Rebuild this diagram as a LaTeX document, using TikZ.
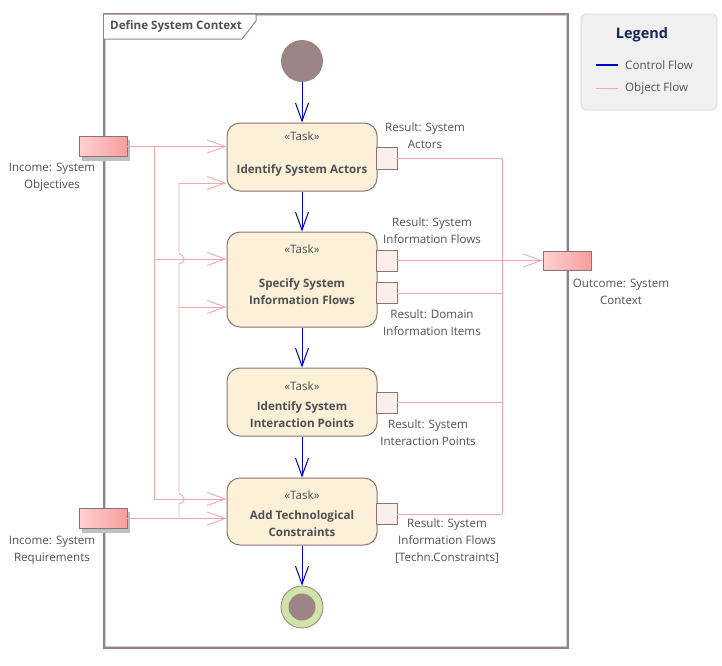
\documentclass[tikz,border=0pt]{standalone}
\usepackage{fontspec}
\setmainfont{Open Sans}
\usetikzlibrary{arrows.meta,calc}
\definecolor{objc}{RGB}{244,170,170}
\definecolor{ctrlc}{RGB}{0,0,205}
\definecolor{taskfill}{RGB}{253,240,217}
\definecolor{taskdraw}{RGB}{140,115,115}
\definecolor{pinfill}{RGB}{249,238,233}
\definecolor{inpinL}{RGB}{255,208,208}
\definecolor{inpinR}{RGB}{247,158,158}
\definecolor{initfill}{RGB}{158,133,133}
\definecolor{finring}{RGB}{208,228,168}
\definecolor{framec}{RGB}{150,130,130}
\definecolor{txtc}{RGB}{80,80,80}
\definecolor{legfill}{RGB}{240,240,240}
\definecolor{legdraw}{RGB}{215,215,215}
\definecolor{legtitle}{RGB}{20,40,90}
\begin{document}
\begin{tikzpicture}[x=1pt,y=-1pt,
  taskbox/.style={draw=taskdraw, fill=taskfill, line width=1pt, rounded corners=13pt, minimum width=150pt, inner sep=0},
  outpin/.style={draw=taskdraw, fill=pinfill, line width=0.9pt, minimum width=21pt, minimum height=21pt, inner sep=0},
  inpin/.style={draw=taskdraw, left color=inpinL, right color=inpinR, line width=0.9pt, minimum width=48pt, minimum height=20pt, inner sep=0},
  lbl/.style={text=txtc, font=\fontsize{11.6}{17}\selectfont, align=center, inner sep=0},
  tlbl/.style={text=txtc, font=\fontsize{11.6}{17}\selectfont, align=center, inner sep=0},
  tname/.style={text=txtc, font=\bfseries\fontsize{11.6}{17}\selectfont, align=center, inner sep=0},
  obj/.style={draw=objc, line width=0.9pt},
  objarr/.style={obj, -{Straight Barb[length=18pt,width=13pt]}},
  ctrl/.style={draw=ctrlc, line width=1pt, -{Straight Barb[length=18pt,width=13pt]}},
]
\useasboundingbox (0,0) rectangle (722,665);
% frame
\draw[black!18, line width=1.2pt] (105.5,15.5) rectangle (566.5,646.5);
\draw[framec, line width=1.4pt] (104,14) rectangle (568,648);
\draw[framec, line width=1pt, fill=white] (104,14) -- (256,14) -- (256,21) -- (242,39) -- (104,39);
\node[text=txtc, font=\bfseries\fontsize{11.6}{13}\selectfont, anchor=west, inner sep=0] (title) at (110,26.5) {Define System Context};
% legend
\node[draw=legdraw, fill=legfill, rounded corners=5pt, line width=0.8pt, minimum width=136pt, minimum height=96pt, inner sep=0] (legend) at (649,62) {};
\node[text=legtitle, font=\bfseries\fontsize{14.5}{16}\selectfont, inner sep=0] (legt) at (642,35) {Legend};
\coordinate (lc1) at (596,65); \coordinate (lc2) at (618,65);
\coordinate (lo1) at (596,88); \coordinate (lo2) at (618,88);
\draw[color=ctrlc, line width=1.1pt] (lc1) -- (lc2);
\draw[obj] (lo1) -- (lo2);
\node[lbl, anchor=west] (legc) at (625,65) {Control Flow};
\node[lbl, anchor=west] (lego) at (625,88) {Object Flow};
% initial / final
\node[circle, fill=initfill, minimum size=42pt, inner sep=0] (init) at (302,61) {};
\node[circle, draw=framec, fill=finring, line width=0.8pt, minimum size=42pt, inner sep=0] (final) at (302,607) {};
\node[circle, fill=initfill, minimum size=27pt, inner sep=0] (finalin) at (302,607) {};
% tasks
\node[taskbox, minimum height=68pt] (t1) at (302,157) {};
\node[taskbox, minimum height=95pt] (t2) at (302,279.5) {};
\node[taskbox, minimum height=68pt] (t3) at (302,402) {};
\node[taskbox, minimum height=67pt] (t4) at (302,511.5) {};
\node[tlbl] (t1s) at (302,136) {«Task»};
\node[tname] (t1n) at (302,170) {Identify System Actors};
\node[tlbl] (t2s) at (302,249) {«Task»};
\node[tname] (t2n) at (302,292) {Specify System\\Information Flows};
\node[tlbl] (t3s) at (302,386) {«Task»};
\node[tname] (t3n) at (302,415) {Identify System\\Interaction Points};
\node[tlbl] (t4s) at (302,495) {«Task»};
\node[tname] (t4n) at (302,524) {Add Technological\\Constraints};
% output pins
\node[outpin, minimum height=22pt] (p1) at (386.5,158) {};
\node[outpin] (p2a) at (386.5,260.5) {};
\node[outpin] (p2b) at (386.5,293) {};
\node[outpin] (p3) at (386.5,402.5) {};
\node[outpin] (p4) at (386.5,514) {};
% income / outcome pins
\fill[black!25] (82,139.5) rectangle (130,160.5);
\node[inpin] (objp) at (103,146.5) {};
\fill[black!25] (82,511.5) rectangle (130,532.5);
\node[inpin] (reqp) at (103,518.5) {};
\node[inpin, minimum height=19pt] (outp) at (567,260.5) {};
% labels
\node[lbl] (lobj) at (52,177) {Income: System\\Objectives};
\node[lbl] (lreq) at (52,550) {Income: System\\Requirements};
\node[lbl] (lp1) at (425,136) {Result: System\\Actors};
\node[lbl] (lp2a) at (432,231) {Result: System\\Information Flows};
\node[lbl] (lp2b) at (432,323) {Result: Domain\\Information Items};
\node[lbl] (lp3) at (428,433) {Result: System\\Interaction Points};
\node[lbl] (lp4) at (447,541) {Result: System\\Information Flows\\{[}Techn.Constraints{]}};
\node[lbl] (lout) at (621,292) {Outcome: System\\Context};
% control flow
\draw[ctrl] (init.south) -- (t1.north);
\draw[ctrl] (t1.south) -- (t2.north);
\draw[ctrl] (t2.south) -- (t3.north);
\draw[ctrl] (t3.south) -- (t4.north);
\draw[ctrl] (t4.south) -- (final.north);
% left object flows
\coordinate (ja) at (154,146.5);
\coordinate (ja2) at (154,259);
\coordinate (ja4) at (154,499);
\coordinate (jb) at (179,518.5);
\coordinate (jb1) at (179,183);
\coordinate (jb2) at (179,307);
\draw[objarr] (objp.east) -- (objp.east -| t1.west);
\draw[obj] (ja) -- (ja4);
\draw[objarr] (ja2) -- (ja2 -| t2.west);
\draw[objarr] (ja4) -- (ja4 -| t4.west);
\draw[objarr] (reqp.east) -- (reqp.east -| t4.west);
\draw[obj] (jb) -- (179,504) arc[start angle=90, end angle=-90, radius=5] -- (179,264) arc[start angle=90, end angle=-90, radius=5] -- (jb1);
\draw[objarr] (jb1) -- (jb1 -| t1.west);
\draw[objarr] (jb2) -- (jb2 -| t2.west);
% right object flows
\coordinate (rc) at (502,514);
\draw[obj] (p1.east) -| (rc);
\draw[obj] (p4.east) -- (rc);
\draw[obj] (p2b.east) -- (p2b.east -| rc);
\draw[obj] (p3.east) -- (p3.east -| rc);
\draw[objarr] (p2a.east) -- (outp.west);
\end{tikzpicture}
\end{document}
